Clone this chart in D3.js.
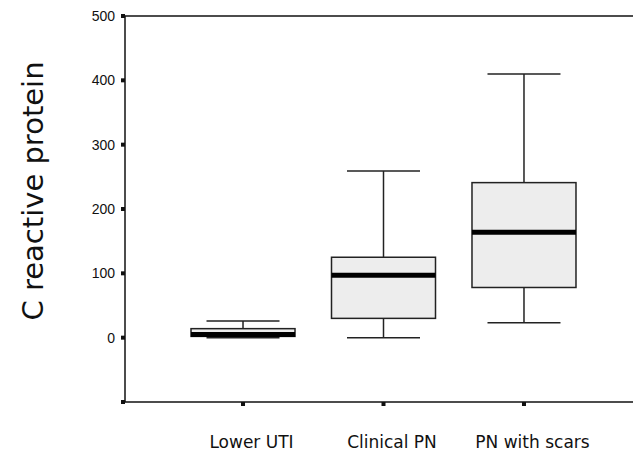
<!DOCTYPE html>
<html>
<head>
<meta charset="utf-8">
<script src="https://cdn.jsdelivr.net/npm/d3@7"></script>
<style>
  body { margin: 0; background: #fff; }
</style>
</head>
<body>
<div id="chart"></div>
<script>
// groups on the x axis
const groups = ["Lower UTI", "Clinical PN", "PN with scars"];
// box plot statistics
const lowWhisker = [0, 0, 23];
const q1 = [2, 30, 78];
const median = [5, 97, 164];
const q3 = [14, 125, 241];
const highWhisker = [26, 259, 410];
const yTicks = [0, 100, 200, 300, 400, 500];

const W = 633, H = 451;
const plotLeft = 125, plotTop = 16, plotBottom = 402;

const svg = d3.select("#chart").append("svg")
  .attr("width", W).attr("height", H);

const y = d3.scaleLinear().domain([-100, 500]).range([plotBottom, plotTop]);
const x = d3.scalePoint().domain(groups).range([plotLeft, 642]).padding(0.84);

const boxW = 104, capW = 73;

const data = groups.map((g, i) => ({
  g, lo: lowWhisker[i], q1: q1[i], med: median[i], q3: q3[i], hi: highWhisker[i]
}));

// frame line along the top
svg.append("line").attr("x1", plotLeft).attr("x2", W).attr("y1", plotTop).attr("y2", plotTop)
  .attr("stroke", "#111").attr("stroke-width", 1.5);

// y axis
const yAxis = svg.append("g")
  .attr("transform", `translate(${plotLeft},0)`)
  .call(d3.axisLeft(y).tickValues(yTicks).tickSize(0).tickPadding(10));
yAxis.select(".domain").attr("stroke", "#111").attr("stroke-width", 1.5)
  .attr("d", `M0,${plotTop}V${plotBottom}`);
yAxis.selectAll("text").style("font-family", "'Liberation Sans', Arial, sans-serif")
  .style("font-size", "14px").attr("fill", "#111");
svg.selectAll(".ytick").data(yTicks.concat([-100])).enter().append("rect")
  .attr("x", plotLeft - 4).attr("y", d => y(d) - 2).attr("width", 4).attr("height", 4)
  .attr("fill", "#111");

// x axis
const xAxis = svg.append("g")
  .attr("transform", `translate(0,${plotBottom})`)
  .call(d3.axisBottom(x).tickSize(0).tickPadding(34));
xAxis.select(".domain").attr("stroke", "#111").attr("stroke-width", 1.5)
  .attr("d", `M${plotLeft},0H${W}`);
xAxis.selectAll("text")
  .style("font-family", "'Comic Sans MS', 'DejaVu Sans', sans-serif")
  .style("font-size", "17px").attr("fill", "#111").attr("dx", 8);
svg.selectAll(".xtick").data(groups).enter().append("rect")
  .attr("x", d => x(d) - 2).attr("y", plotBottom).attr("width", 4).attr("height", 4)
  .attr("fill", "#111");

// whiskers
const b = svg.append("g").selectAll("g").data(data).enter().append("g");
b.append("line")
  .attr("x1", d => x(d.g)).attr("x2", d => x(d.g))
  .attr("y1", d => y(d.hi)).attr("y2", d => y(d.lo))
  .attr("stroke", "#222").attr("stroke-width", 1.5);
b.append("line")
  .attr("x1", d => x(d.g) - capW / 2).attr("x2", d => x(d.g) + capW / 2)
  .attr("y1", d => y(d.hi)).attr("y2", d => y(d.hi))
  .attr("stroke", "#222").attr("stroke-width", 1.5);
b.append("line")
  .attr("x1", d => x(d.g) - capW / 2).attr("x2", d => x(d.g) + capW / 2)
  .attr("y1", d => y(d.lo)).attr("y2", d => y(d.lo))
  .attr("stroke", "#222").attr("stroke-width", 1.5);

// boxes
b.append("rect")
  .attr("x", d => x(d.g) - boxW / 2).attr("width", boxW)
  .attr("y", d => y(d.q3)).attr("height", d => y(d.q1) - y(d.q3))
  .attr("fill", "#ededed").attr("stroke", "#222").attr("stroke-width", 1.5);

// medians
b.append("line")
  .attr("x1", d => x(d.g) - boxW / 2).attr("x2", d => x(d.g) + boxW / 2)
  .attr("y1", d => y(d.med)).attr("y2", d => y(d.med))
  .attr("stroke", "#000").attr("stroke-width", 5);

// y title
svg.append("text")
  .attr("transform", "translate(43,191) rotate(-90)")
  .attr("text-anchor", "middle")
  .style("font-family", "'Comic Sans MS', 'DejaVu Sans', sans-serif")
  .style("font-size", "29px").attr("fill", "#111")
  .text("C reactive protein");
</script>
</body>
</html>
